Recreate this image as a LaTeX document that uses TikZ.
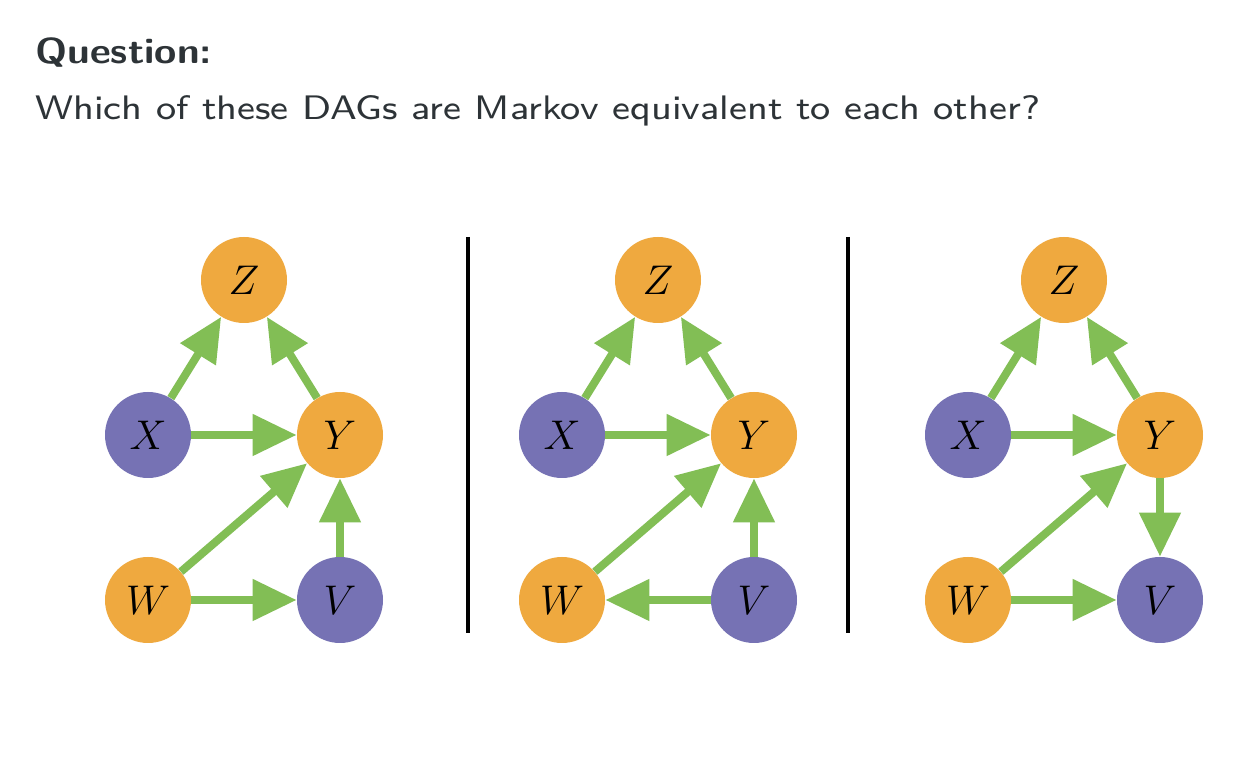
\documentclass[tikz,border=0pt]{standalone}
\usepackage{fontspec}
\usepackage{graphicx}
\usepackage{tikz}
\usetikzlibrary{arrows.meta}
\newfontfamily\slidefont{lmsans8-regular}[Extension=.otf, BoldFont=lmsans10-bold]
\definecolor{dagorange}{HTML}{EFA93F}
\definecolor{dagpurple}{HTML}{7672B4}
\definecolor{daggreen}{HTML}{82BE55}
\definecolor{slidetext}{HTML}{2D3337}

\tikzset{
  var/.style={circle, minimum size=43pt, inner sep=0pt, font=\fontsize{21}{23}\selectfont},
  obs/.style={var, fill=dagorange},
  hid/.style={var, fill=dagpurple},
  dagarrow/.style={daggreen, line width=4pt, -{Triangle[length=22pt,width=20pt]}},
}

\begin{document}
\begin{tikzpicture}[x=0.5pt, y=0.5pt]
  \fill[white] (0,0) rectangle (1260,776);
  \useasboundingbox (0,0) rectangle (1260,776);

  % question text
  \node[anchor=base west, inner sep=0pt, text=slidetext,
        font=\slidefont\bfseries\fontsize{18}{21}\selectfont] (q) at (35,712.5)
        {\scalebox{1.125}[1]{Question:}};
  \node[anchor=base west, inner sep=0pt, text=slidetext,
        font=\slidefont\fontsize{17}{20}\selectfont] (ask) at (35,656)
        {\scalebox{1.116}[1]{Which of these DAGs are Markov equivalent to each other?}};

  % separators
  \draw[line width=2pt] (468,539) -- (468,143);
  \draw[line width=2pt] (848,539) -- (848,143);

  % first DAG
  \node[obs] (Z1) at (244,496) {$Z$};
  \node[hid] (X1) at (148,341) {$X$};
  \node[obs] (Y1) at (340,341) {$Y$};
  \node[obs] (W1) at (148,176) {$W$};
  \node[hid] (V1) at (340,176) {$V$};
  \draw[dagarrow] (X1) -- (Z1);
  \draw[dagarrow] (Y1) -- (Z1);
  \draw[dagarrow] (X1) -- (Y1);
  \draw[dagarrow] (W1) -- (Y1);
  \draw[dagarrow] (W1) -- (V1);
  \draw[dagarrow] (V1) -- (Y1);

  % second DAG
  \begin{scope}[shift={(414,0)}]
    \node[obs] (Z2) at (244,496) {$Z$};
    \node[hid] (X2) at (148,341) {$X$};
    \node[obs] (Y2) at (340,341) {$Y$};
    \node[obs] (W2) at (148,176) {$W$};
    \node[hid] (V2) at (340,176) {$V$};
    \draw[dagarrow] (X2) -- (Z2);
    \draw[dagarrow] (Y2) -- (Z2);
    \draw[dagarrow] (X2) -- (Y2);
    \draw[dagarrow] (W2) -- (Y2);
    \draw[dagarrow] (V2) -- (W2);
    \draw[dagarrow] (V2) -- (Y2);
  \end{scope}

  % third DAG
  \begin{scope}[shift={(820,0)}]
    \node[obs] (Z3) at (244,496) {$Z$};
    \node[hid] (X3) at (148,341) {$X$};
    \node[obs] (Y3) at (340,341) {$Y$};
    \node[obs] (W3) at (148,176) {$W$};
    \node[hid] (V3) at (340,176) {$V$};
    \draw[dagarrow] (X3) -- (Z3);
    \draw[dagarrow] (Y3) -- (Z3);
    \draw[dagarrow] (X3) -- (Y3);
    \draw[dagarrow] (W3) -- (Y3);
    \draw[dagarrow] (W3) -- (V3);
    \draw[dagarrow] (Y3) -- (V3);
  \end{scope}
\end{tikzpicture}
\end{document}
